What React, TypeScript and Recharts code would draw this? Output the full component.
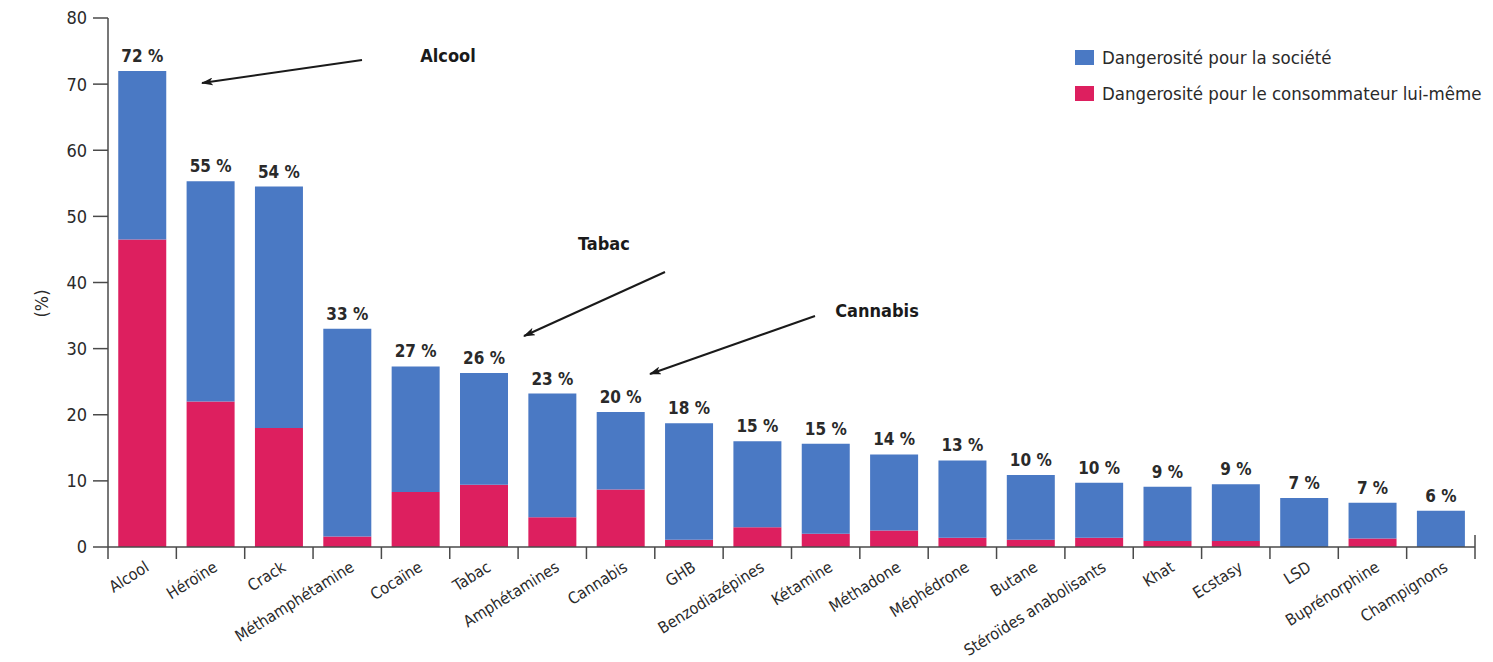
import { BarChart, Bar, XAxis, YAxis, LabelList } from 'recharts';

const drugs = [
  'Alcool', 'Héroïne', 'Crack', 'Méthamphétamine', 'Cocaïne', 'Tabac', 'Amphétamines',
  'Cannabis', 'GHB', 'Benzodiazépines', 'Kétamine', 'Méthadone', 'Méphédrone', 'Butane',
  'Stéroïdes anabolisants', 'Khat', 'Ecstasy', 'LSD', 'Buprénorphine', 'Champignons',
];
// share of the harm borne by the user (pink, bottom)
const userHarm = [46.5, 22, 18, 1.6, 8.3, 9.4, 4.5, 8.7, 1.1, 3, 2, 2.5, 1.4, 1.1, 1.4, 0.9, 0.9, 0, 1.3, 0];
// share of the harm borne by society (blue, top)
const societyHarm = [25.5, 33.3, 36.5, 31.4, 19, 16.9, 18.7, 11.7, 17.6, 13, 13.6, 11.5, 11.7, 9.8, 8.3, 8.2, 8.6, 7.4, 5.4, 5.5];
const totalLabels = ['72 %', '55 %', '54 %', '33 %', '27 %', '26 %', '23 %', '20 %', '18 %', '15 %', '15 %', '14 %', '13 %', '10 %', '10 %', '9 %', '9 %', '7 %', '7 %', '6 %'];
const yTicks = [0, 10, 20, 30, 40, 50, 60, 70, 80];
const seriesNames = ['Dangerosité pour la société', 'Dangerosité pour le consommateur lui-même'];

const BLUE = '#4a79c4';
const PINK = '#dd1f5f';
const AXIS = '#4a4a4a';
const FONT = "'Liberation Sans Narrow', 'DejaVu Sans Condensed', 'Liberation Sans', sans-serif";

const W = 1493;
const H = 662;
const LEFT = 108;
const RIGHT = 18;
const BAND = (W - LEFT - RIGHT) / drugs.length;

const data = drugs.map((name, i) => ({
  name,
  user: userHarm[i],
  society: societyHarm[i],
  label: totalLabels[i],
}));

const XTick = ({ x, y, payload, index }: any) => {
  const last = index === drugs.length - 1;
  return (
    <g>
      <line x1={x - BAND / 2} x2={x - BAND / 2} y1={y} y2={y + 12} stroke={AXIS} strokeWidth={1.5} />
      {last && <line x1={x + BAND / 2} x2={x + BAND / 2} y1={y - 12} y2={y + 12} stroke={AXIS} strokeWidth={1.5} />}
      <text
        transform={`translate(${x + 8},${y + 23}) rotate(-32)`}
        textAnchor="end"
        fontSize={16}
        fontFamily={FONT}
        fill="#2a2a2a"
      >
        {payload.value}
      </text>
    </g>
  );
};

const TopLabel = ({ x, y, width, value }: any) => (
  <text
    x={x + width / 2}
    y={y - 9}
    textAnchor="middle"
    fontSize={17}
    fontWeight="bold"
    fontFamily={FONT}
    fill="#2a2a2a"
  >
    {value}
  </text>
);

const notes = [
  { text: 'Alcool', tx: 448, ty: 57, x1: 362, y1: 60, x2: 202, y2: 83 },
  { text: 'Tabac', tx: 604, ty: 245, x1: 665, y1: 272, x2: 524, y2: 336 },
  { text: 'Cannabis', tx: 877, ty: 312, x1: 815, y1: 316, x2: 650, y2: 374 },
];

export default function App() {
  return (
    <div style={{ position: 'absolute', left: 0, top: 0, width: W, height: H, background: '#fff' }}>
      <BarChart width={W} height={H} data={data} margin={{ top: 18, right: RIGHT, left: 0, bottom: 0 }} barCategoryGap="15%">
        <XAxis
          dataKey="name"
          interval={0}
          height={115}
          tickLine={false}
          tickSize={0}
          tickMargin={0}
          axisLine={{ stroke: AXIS, strokeWidth: 1.5 }}
          tick={<XTick />}
        />
        <YAxis
          width={LEFT}
          domain={[0, 80]}
          ticks={yTicks}
          tickSize={15}
          tickMargin={6}
          axisLine={{ stroke: AXIS, strokeWidth: 1.5 }}
          tickLine={{ stroke: AXIS, strokeWidth: 1.5 }}
          tick={{ fontSize: 18, fontFamily: FONT, fill: '#2a2a2a' }}
          label={{ value: '(%)', angle: -90, position: 'center', dx: -12, dy: 21, style: { fontSize: 18, fontFamily: FONT, fill: '#2a2a2a' } }}
        />
        <Bar dataKey="user" stackId="a" fill={PINK} isAnimationActive={false} />
        <Bar dataKey="society" stackId="a" fill={BLUE} isAnimationActive={false}>
          <LabelList dataKey="label" content={<TopLabel />} />
        </Bar>
      </BarChart>
      <div style={{ position: 'absolute', left: 1075, top: 39, fontFamily: FONT, fontSize: 18.5, color: '#2a2a2a' }}>
        {seriesNames.map((n, i) => (
          <div key={n} style={{ display: 'flex', alignItems: 'center', height: 36, whiteSpace: 'nowrap' }}>
            <span style={{ width: 19, height: 15, background: i === 0 ? BLUE : PINK, marginRight: 8, display: 'inline-block' }} />
            {n}
          </div>
        ))}
      </div>
      <svg width={W} height={H} style={{ position: 'absolute', left: 0, top: 0, pointerEvents: 'none' }}>
        <defs>
          <marker id="arrow" viewBox="0 0 12 8" refX="11" refY="4" markerWidth="12" markerHeight="8" markerUnits="userSpaceOnUse" orient="auto">
            <path d="M0,0 L12,4 L0,8 L3,4 Z" fill="#1a1a1a" />
          </marker>
        </defs>
        {notes.map((n) => (
          <g key={n.text}>
            <line x1={n.x1} y1={n.y1} x2={n.x2} y2={n.y2} stroke="#1a1a1a" strokeWidth={2} markerEnd="url(#arrow)" />
            <text x={n.tx} y={n.ty} textAnchor="middle" dominantBaseline="middle" fontSize={18} fontWeight="bold" fontFamily={FONT} fill="#1a1a1a">
              {n.text}
            </text>
          </g>
        ))}
      </svg>
    </div>
  );
}
